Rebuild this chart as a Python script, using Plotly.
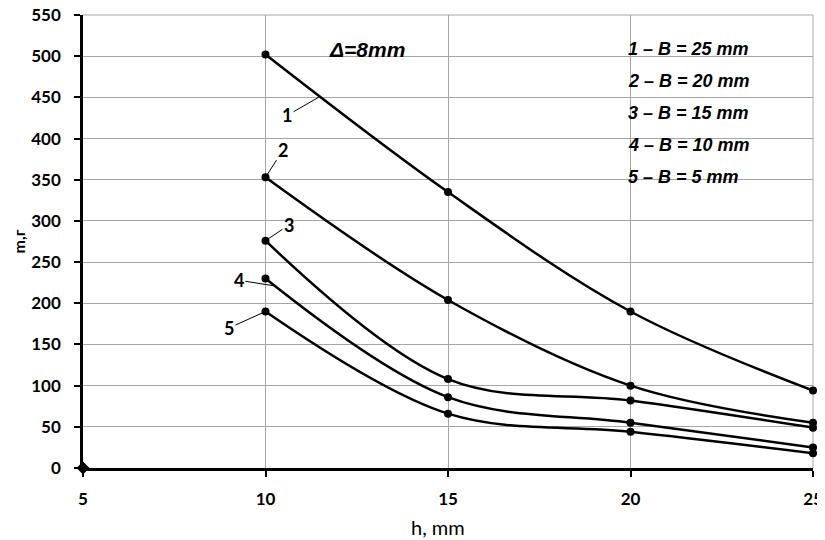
import plotly.graph_objects as go

h = [10, 15, 20, 25]
series_names = ["1", "2", "3", "4", "5"]
m1 = [502, 335, 190, 94]
m2 = [353, 204, 100, 55]
m3 = [276, 108, 82, 49]
m4 = [230, 86, 55, 25]
m5 = [190, 66, 44, 18]
origin_x = [5]
origin_y = [0]
legend_lines = ["1 – B = 25 mm", "2 – B = 20 mm", "3 – B = 15 mm", "4 – B = 10 mm", "5 – B = 5 mm"]
x_ticks = [5, 10, 15, 20, 25]
y_ticks = list(range(0, 551, 50))

OFF = 8  # page offset of the figure inside the browser window
W, H = 825 - OFF, 540 - OFF
L, R, T, B = 83 - OFF, 813 - OFF, 15 - OFF, 468 - OFF
PW, PH = R - L, B - T


def px(xa):
    return (xa - OFF - L) / PW


def py(ya):
    return (B - (ya - OFF)) / PH


fig = go.Figure()
for name, vals in zip(series_names, [m1, m2, m3, m4, m5]):
    fig.add_trace(go.Scatter(
        x=h, y=vals, mode="lines+markers", name=name,
        line=dict(color="black", width=2.5, shape="spline", smoothing=1.0),
        marker=dict(color="black", size=8),
        cliponaxis=False, showlegend=False))

fig.add_trace(go.Scatter(x=origin_x, y=origin_y, mode="markers",
                         marker=dict(color="black", size=10, symbol="diamond"),
                         cliponaxis=False, showlegend=False))

# number labels with leader lines (text position, arrow tip)
labels = [
    ("1", 10.59, 428, 11.49, 451),
    ("2", 10.48, 386, 10.0, m2[0]),
    ("3", 10.64, 295, 10.0, m3[0]),
    ("4", 9.27, 228, 10.26, 221),
    ("5", 9.0, 170, 10.0, m5[0]),
]
for t, tx, ty, hx, hy in labels:
    fig.add_annotation(x=hx, y=hy, ax=tx, ay=ty, axref="x", ayref="y",
                       xref="x", yref="y", text=t, showarrow=True,
                       arrowhead=0, arrowwidth=1, arrowcolor="black", standoff=0,
                       font=dict(family="Lato", size=18, color="black", weight="bold"))

# legend box
fig.add_shape(type="rect", xref="paper", yref="paper",
              x0=px(620), x1=px(795), y0=py(210), y1=py(27),
              fillcolor="white", line=dict(width=0), layer="between")

legend_y = [49, 81, 113, 145, 177]
for txt, yy in zip(legend_lines, legend_y):
    fig.add_annotation(xref="paper", yref="paper", x=px(626), y=py(yy),
                       xanchor="left", yanchor="middle", text=txt, showarrow=False,
                       font=dict(family="Liberation Sans", size=18, color="black",
                                 weight="bold", style="italic"))

fig.add_annotation(xref="paper", yref="paper", x=px(367), y=py(50),
                   xanchor="center", yanchor="middle", text="Δ=8mm", showarrow=False,
                   font=dict(family="Liberation Sans", size=21, color="black",
                             weight="bold", style="italic"))

fig.add_annotation(xref="paper", yref="paper", x=px(438), y=py(527),
                   xanchor="center", yanchor="middle", text="h, mm", showarrow=False,
                   font=dict(family="Lato", size=20, color="black"))

fig.update_layout(
    width=W, height=H,
    margin=dict(l=L, r=W - R, t=T, b=H - B),
    plot_bgcolor="white", paper_bgcolor="white",
    xaxis=dict(range=[5, 25], tickvals=x_ticks, showgrid=True, gridcolor="#a6a6a6",
               gridwidth=1, showline=True, linecolor="black", linewidth=2.5,
               ticks="outside", ticklen=6, tickwidth=2, tickcolor="black",
               ticklabelstandoff=8, zeroline=False, automargin=False,
               ticklabeloverflow="allow",
               tickfont=dict(family="Lato", size=17, color="black", weight="bold")),
    yaxis=dict(range=[0, 550], tickvals=y_ticks, showgrid=True, gridcolor="#a6a6a6",
               gridwidth=1, showline=True, linecolor="black", linewidth=2.5,
               ticks="outside", ticklen=6, tickwidth=2, tickcolor="black",
               ticklabelstandoff=10, zeroline=False, automargin=False,
               ticklabeloverflow="allow",
               tickfont=dict(family="Lato", size=17, color="black", weight="bold"),
               title=dict(text="m,г", standoff=2,
                          font=dict(family="Lato", size=16, color="black", weight="bold"))),
)
fig.add_shape(type="line", xref="paper", yref="paper", x0=0, x1=1, y0=1, y1=1,
              line=dict(color="#a6a6a6", width=1), layer="below")
fig.add_shape(type="line", xref="paper", yref="paper", x0=1, x1=1, y0=0, y1=1,
              line=dict(color="#a6a6a6", width=1), layer="below")

fig.write_html("out.html")
